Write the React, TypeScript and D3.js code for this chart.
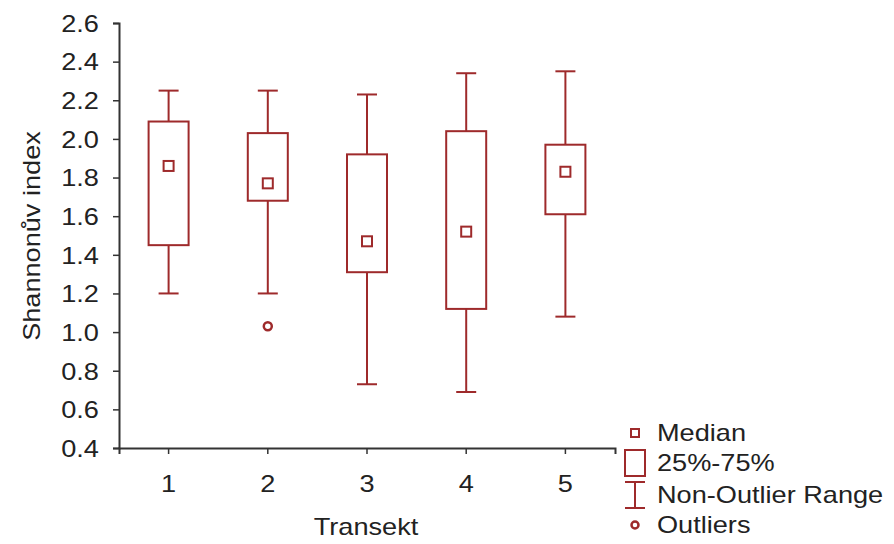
import React, { useEffect, useRef } from 'react';
import * as d3 from 'd3';

// box plot stats per transect
const transects = ['1', '2', '3', '4', '5'];
const medians = [1.86, 1.77, 1.47, 1.52, 1.83];
const q1 = [1.45, 1.68, 1.31, 1.12, 1.61];
const q3 = [2.09, 2.03, 1.92, 2.04, 1.97];
const whiskerLow = [1.2, 1.2, 0.73, 0.69, 1.08];
const whiskerHigh = [2.25, 2.25, 2.23, 2.34, 2.35];
const outliers = [{ transect: '2', value: 1.03 }];
const yTicks = [0.4, 0.6, 0.8, 1.0, 1.2, 1.4, 1.6, 1.8, 2.0, 2.2, 2.4, 2.6];
const legendLabels = ['Median', '25%-75%', 'Non-Outlier Range', 'Outliers'];

const RED = '#9e2a2b';
const FONT = '"Liberation Sans", Arial, sans-serif';
const SX = 1.18; // the original's font runs wider than Arial

export default function App() {
  const ref = useRef<SVGSVGElement>(null);

  useEffect(() => {
    const svg = d3.select(ref.current);
    svg.selectAll('*').remove();

    const left = 119, right = 615, top = 23, bottom = 448;

    const x = d3.scaleBand().domain(transects).range([left, right]);
    const y = d3.scaleLinear().domain([0.4, 2.6]).range([bottom, top]);

    // axes
    const yAxis = svg.append('g')
      .attr('transform', `translate(${left},0)`)
      .call(d3.axisLeft(y).tickValues(yTicks).tickFormat(d3.format('.1f')).tickSize(6).tickPadding(11));
    const xAxis = svg.append('g')
      .attr('transform', `translate(0,${bottom})`)
      .call(d3.axisBottom(x).tickSize(6).tickPadding(22));

    [yAxis, xAxis].forEach(ax => {
      ax.select('.domain').attr('stroke', '#333').attr('stroke-width', 2);
      ax.selectAll('.tick line').attr('stroke', '#333').attr('stroke-width', 1.5);
      ax.selectAll('.tick text')
        .attr('fill', '#222')
        .attr('transform', `scale(${SX},1)`)
        .style('font-family', FONT)
        .style('font-size', '23px');
    });
    yAxis.selectAll('.tick text').attr('dy', '0.36em');

    svg.append('text')
      .attr('transform', `translate(40,236) rotate(-90) scale(${SX},1)`)
      .attr('text-anchor', 'middle')
      .style('font-family', FONT)
      .style('font-size', '23px')
      .attr('fill', '#222')
      .text('Shannonův index');

    svg.append('text')
      .attr('transform', `translate(366,535) scale(${SX},1)`)
      .attr('text-anchor', 'middle')
      .style('font-family', FONT)
      .style('font-size', '23px')
      .attr('fill', '#222')
      .text('Transekt');

    const boxW = 40, capW = 20, med = 10;
    const g = svg.append('g').attr('fill', 'none').attr('stroke', RED).attr('stroke-width', 2);

    transects.forEach((t, i) => {
      const cx = x(t)! + x.bandwidth() / 2;
      // whiskers
      g.append('line').attr('x1', cx).attr('x2', cx).attr('y1', y(whiskerHigh[i])).attr('y2', y(q3[i]));
      g.append('line').attr('x1', cx).attr('x2', cx).attr('y1', y(q1[i])).attr('y2', y(whiskerLow[i]));
      g.append('line').attr('x1', cx - capW / 2).attr('x2', cx + capW / 2).attr('y1', y(whiskerHigh[i])).attr('y2', y(whiskerHigh[i]));
      g.append('line').attr('x1', cx - capW / 2).attr('x2', cx + capW / 2).attr('y1', y(whiskerLow[i])).attr('y2', y(whiskerLow[i]));
      // box
      g.append('rect')
        .attr('x', cx - boxW / 2).attr('width', boxW)
        .attr('y', y(q3[i])).attr('height', y(q1[i]) - y(q3[i]))
        .attr('fill', 'white');
      // median marker
      g.append('rect')
        .attr('x', cx - med / 2).attr('y', y(medians[i]) - med / 2)
        .attr('width', med).attr('height', med);
    });

    outliers.forEach(o => {
      g.append('circle')
        .attr('cx', x(o.transect)! + x.bandwidth() / 2)
        .attr('cy', y(o.value))
        .attr('r', 4)
        .attr('stroke-width', 2.5);
    });

    // legend
    const lx = 635, ly = [433, 463, 495, 525];
    const lg = svg.append('g').attr('fill', 'none').attr('stroke', RED).attr('stroke-width', 2);
    lg.append('rect').attr('x', lx - 4).attr('y', ly[0] - 4).attr('width', 8).attr('height', 8);
    lg.append('rect').attr('x', lx - 10).attr('y', ly[1] - 13).attr('width', 20).attr('height', 26);
    lg.append('line').attr('x1', lx - 10).attr('x2', lx + 10).attr('y1', ly[2] - 13).attr('y2', ly[2] - 13);
    lg.append('line').attr('x1', lx - 10).attr('x2', lx + 10).attr('y1', ly[2] + 13).attr('y2', ly[2] + 13);
    lg.append('line').attr('x1', lx).attr('x2', lx).attr('y1', ly[2] - 13).attr('y2', ly[2] + 13);
    lg.append('circle').attr('cx', lx).attr('cy', ly[3]).attr('r', 3.5).attr('stroke-width', 2.5);

    svg.append('g').selectAll('text')
      .data(legendLabels)
      .join('text')
      .attr('transform', (_, i) => `translate(657,${ly[i]}) scale(${SX},1)`)
      .attr('dy', '0.36em')
      .style('font-family', FONT)
      .style('font-size', '23px')
      .attr('fill', '#222')
      .text(d => d);
  }, []);

  return (
    <svg ref={ref} width={894} height={544} style={{ position: 'absolute', left: 0, top: 0, background: 'white' }} />
  );
}
